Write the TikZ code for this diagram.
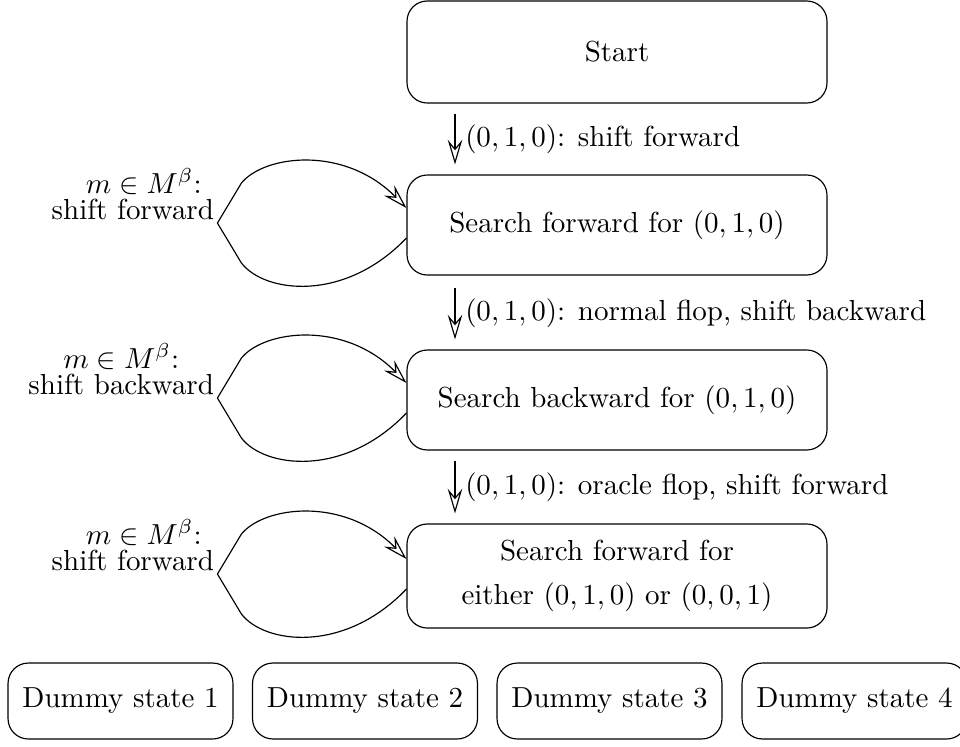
\documentclass[tikz,border=0pt]{standalone}
\usetikzlibrary{arrows.meta,calc}
\begin{document}
\begin{tikzpicture}[x=0.345pt,y=-0.345pt,
  state/.style={draw, rounded corners=7pt, minimum width=144.9pt, minimum height=34.5pt, align=center},
  dummy/.style={draw, rounded corners=7pt, minimum width=77.6pt, minimum height=26.2pt},
  arr/.style={-{Stealth[open,length=8.5pt,width=5pt,inset=3pt]}},
  looplabel/.style={anchor=south east, align=center, inner sep=1pt}]
\useasboundingbox (0,0) rectangle (960,746);
% states
\node[state, minimum height=35.2pt] (start) at (617,52) {Start};
\node[state] (sf) at (617,225) {Search forward for $(0,1,0)$};
\node[state] (sb) at (617,400) {Search backward for $(0,1,0)$};
\node[state, minimum height=35.9pt] (se) at (617,576) {Search forward for\\[3pt] either $(0,1,0)$ or $(0,0,1)$};
% dummy states
\node[dummy] (d1) at (120.5,701) {Dummy state 1};
\node[dummy] (d2) at (365,701) {Dummy state 2};
\node[dummy] (d3) at (609.5,701) {Dummy state 3};
\node[dummy] (d4) at (854.5,701) {Dummy state 4};
% vertical transitions
\draw[arr] ($(start.south)+(-162,10)$) -- node[right] {$(0,1,0)$: shift forward} ($(sf.north)+(-162,-10)$);
\draw[arr] ($(sf.south)+(-162,12)$) -- node[right] {$(0,1,0)$: normal flop, shift backward} ($(sb.north)+(-162,-10)$);
\draw[arr] ($(sb.south)+(-162,10)$) -- node[right] {$(0,1,0)$: oracle flop, shift forward} ($(se.north)+(-162,-10)$);
% self loops
\foreach \s/\txt/\ind in {sf/{shift forward}/7.5pt, sb/{shift backward}/0pt, se/{shift forward}/7.5pt}{
  \coordinate (apex-\s) at ($(\s.west)+(-189,-2)$);
  \draw[arr] ($(\s.west)+(0,13)$)
      .. controls ($(\s.west)+(-62,78)$) and ($(\s.west)+(-142,68)$) .. ($(\s.west)+(-165,38)$)
      -- (apex-\s)
      -- ($(\s.west)+(-165,-42)$)
      .. controls ($(\s.west)+(-142,-70)$) and ($(\s.west)+(-62,-80)$) .. ($(\s.west)+(0,-17)$);
  \node[looplabel] (lab-\s) at (apex-\s) {\hspace*{\ind}$m\in M^\beta$:\\[-3pt] \txt};
}
\end{tikzpicture}
\end{document}
